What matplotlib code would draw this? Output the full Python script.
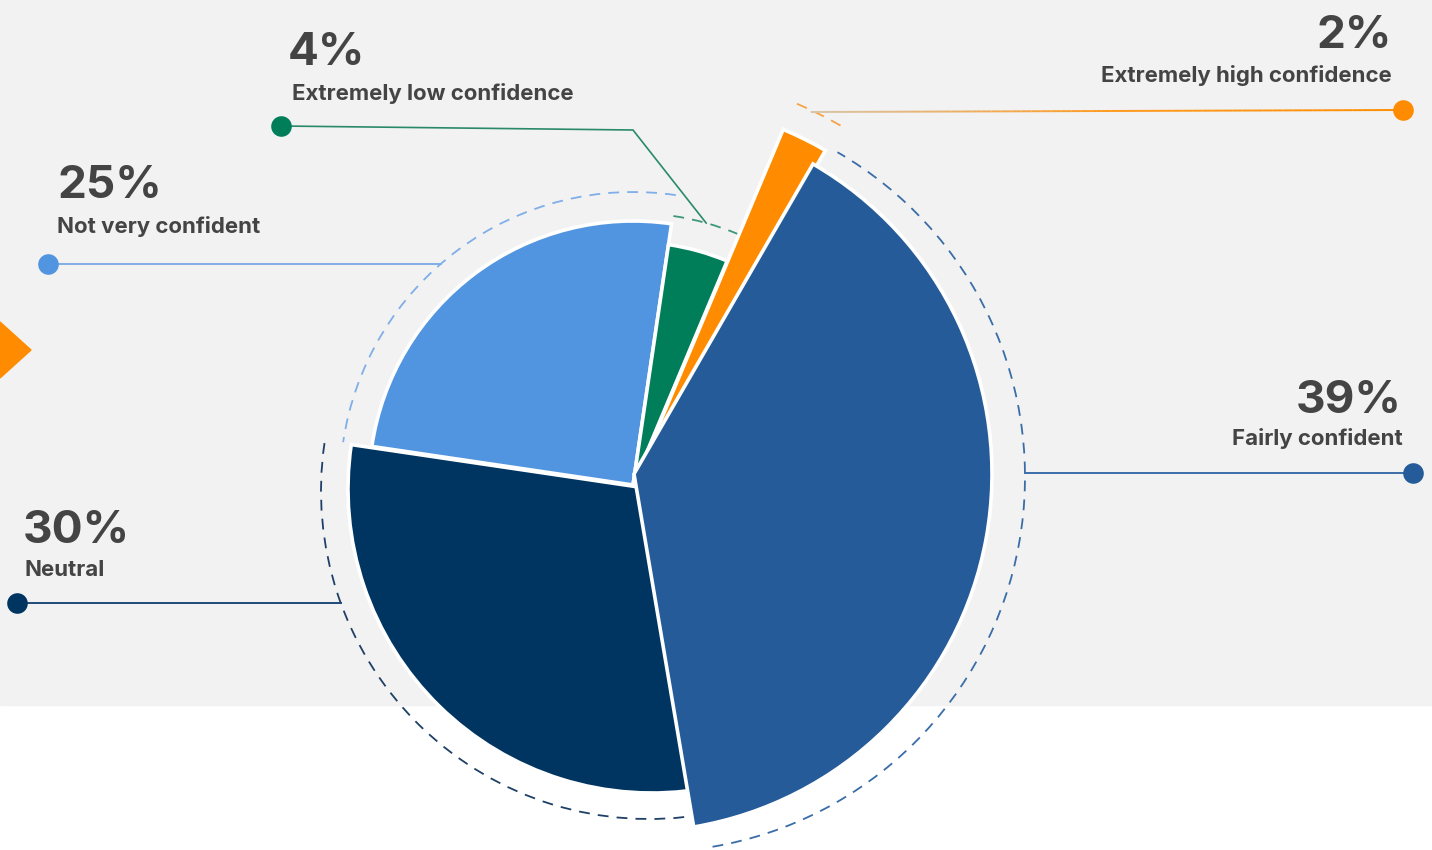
import numpy as np
import matplotlib
matplotlib.use("Agg")
import matplotlib.pyplot as plt
from matplotlib.patches import Wedge, Arc, Rectangle, Polygon
from matplotlib.collections import LineCollection

# survey answers, clockwise from the top-right
labels = ['Fairly confident', 'Neutral', 'Not very confident',
          'Extremely low confidence', 'Extremely high confidence']
values = [39, 30, 25, 4, 2]

colors = ['#255B98', '#003562', '#5194DF', '#007E5A', '#FF8C00']
dash_colors = ['#3A6DA8', '#1E3F66', '#7FAEE8', '#3E9878', '#F6A445']

W, H = 1432, 850
# each slice has its own centre and radius; pixel coords from the top
centres = [(634, 474), (652, 489), (633, 485), (633, 485), (633, 485)]
radii = [358, 304, 264, 243, 376]
explode = [0, 0, 0, 0, 10]
dash_centres = [(650, 477), (649, 491), (633, 485), (633, 485), (633, 485)]
dash_radii = [375, 328, 293, 272, 415]
draw_order = [1, 2, 3, 4, 0]
start = 60

# label placement (x, y from top, alignment) and leader dot positions
pct_pos = [(1402, 413, 'right'), (23, 543, 'left'), (58, 198, 'left'),
           (288, 65, 'left'), (1392, 48, 'right')]
name_pos = [(1403, 445, 'right'), (25, 576, 'left'), (57, 233, 'left'),
            (292, 100, 'left'), (1392, 82, 'right')]
dots = [(1413, 473), (17, 603), (48, 264), (281, 126), (1403, 110)]

FONT = 'Inter'
TXT = '#444444'

fig = plt.figure(figsize=(W / 100, H / 100), dpi=100)
ax = fig.add_axes([0, 0, 1, 1])
ax.set_xlim(0, W)
ax.set_ylim(0, H)
ax.axis('off')

# background band and the small arrow on the left edge
ax.add_patch(Rectangle((0, H - 705), W, 705, color='#F2F2F2', zorder=0))
ax.add_patch(Polygon([(0, H - 322), (31, H - 350), (0, H - 378)],
                     closed=True, color='#FF8C00', zorder=1))

total = sum(values)
angles = []
a = start
for v in values:
    sweep = 360 * v / total
    angles.append((a - sweep, a))
    a -= sweep

for z, i in enumerate(draw_order):
    t1, t2 = angles[i]
    mid = np.radians((t1 + t2) / 2)
    ox = centres[i][0] + explode[i] * np.cos(mid)
    oy = H - centres[i][1] + explode[i] * np.sin(mid)
    ax.add_patch(Wedge((ox, oy), radii[i], t1, t2, facecolor=colors[i],
                       edgecolor='white', linewidth=2.6, zorder=3 + z * 0.1))
    dcx, dcy = dash_centres[i]
    ax.add_patch(Arc((dcx, H - dcy), 2 * dash_radii[i], 2 * dash_radii[i],
                     theta1=t1, theta2=t2, color=dash_colors[i], lw=1.3,
                     linestyle=(0, (6, 4.5)), zorder=2))

# leader lines
for i, (dx, dy) in enumerate(dots):
    y = H - dy
    r = dash_radii[i]
    dcx, dcy = dash_centres[i][0], H - dash_centres[i][1]
    if i == 3:
        t1, t2 = angles[i]
        mid = np.radians((t1 + t2) / 2)
        ex, ey = dcx + r * np.cos(mid), dcy + r * np.sin(mid)
        ax.plot([dx, 633, ex], [y, H - 130, ey], color='#2A8A68', lw=1.2,
                zorder=2, solid_joinstyle='miter')
    else:
        off = np.sqrt(r ** 2 - (y - dcy) ** 2)
        ex = dcx + off if dx > dcx else dcx - off
        if i == 4:
            xs = np.linspace(ex, dx, 60)
            ys = np.linspace(H - 112, y, 60)
            segs = np.stack([np.column_stack([xs[:-1], ys[:-1]]),
                             np.column_stack([xs[1:], ys[1:]])], axis=1)
            grad = matplotlib.colors.LinearSegmentedColormap.from_list(
                'o', ['#D9C3A6', '#FF9A1F', '#FF8C00'])
            lc = LineCollection(segs, colors=grad(np.linspace(0, 1, 59)),
                                lw=1.4, zorder=2)
            ax.add_collection(lc)
        else:
            ax.plot([dx, ex], [y, y], color=dash_colors[i] if i != 1 else '#1E4A7A',
                    lw=1.4, zorder=2)
    ax.scatter([dx], [y], s=220, color=colors[i], zorder=4, linewidths=0)

for i in range(len(values)):
    px, py, ha = pct_pos[i]
    ax.text(px, H - py, f'{values[i]}%', ha=ha, va='baseline', fontsize=33,
            fontweight='bold', color=TXT, family=FONT, zorder=5)
    nx, ny, ha = name_pos[i]
    ax.text(nx, H - ny, labels[i], ha=ha, va='baseline', fontsize=16,
            fontweight='bold', color=TXT, family=FONT, zorder=5)

fig.savefig('out.png', dpi=100)
